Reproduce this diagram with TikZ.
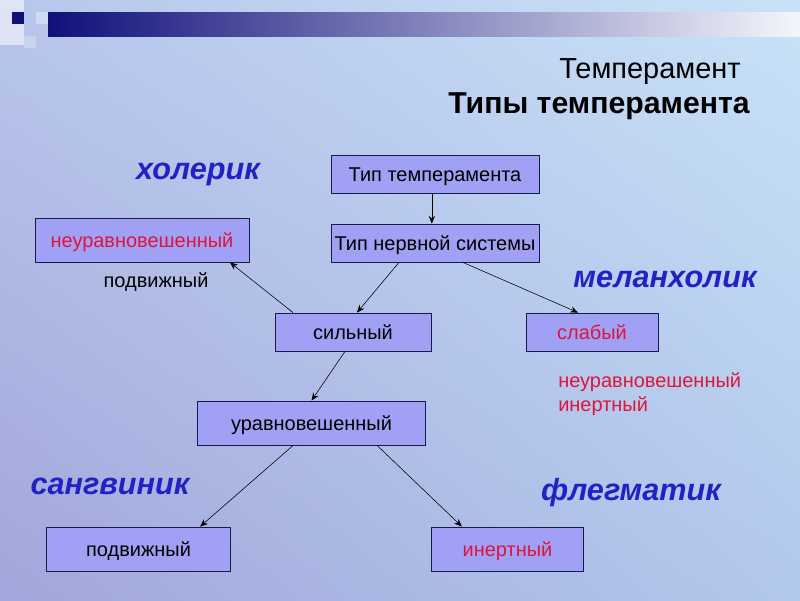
\documentclass[tikz,border=0pt]{standalone}
\usepackage{fontspec}
\setmainfont{Liberation Sans}
\usepackage{xcolor}
\usepackage{tikz}
\usetikzlibrary{positioning, arrows.meta, calc, shadings}
\definecolor{boxfill}{HTML}{A0A0F4}
\definecolor{boxline}{HTML}{1A1A4A}
\definecolor{typeblue}{HTML}{2222C4}
\definecolor{wordred}{HTML}{E0143C}
\definecolor{barnavy}{HTML}{10107A}
\definecolor{bgtl}{HTML}{B8C6EC}
\definecolor{bgtr}{HTML}{C8E2F7}
\definecolor{bgbl}{HTML}{A2A6DA}
\definecolor{bgbr}{HTML}{B2C8EC}
\definecolor{barend}{HTML}{F4F6FC}

\tikzset{
  box/.style={fill=boxfill, draw=boxline, line width=0.6pt, inner sep=0pt,
              text height=12pt, text depth=2pt,
              font=\fontsize{14.2}{17}\selectfont},
  typename/.style={text=typeblue, font=\fontsize{21.8}{24}\selectfont\bfseries\itshape},
  plain/.style={font=\fontsize{14.2}{17}\selectfont, inner sep=0pt},
  arr/.style={-{Stealth[length=5.5pt, width=4.5pt]}, line width=0.4pt}
}

\begin{document}
\begin{tikzpicture}[x=0.025cm, y=-0.025cm]
    \useasboundingbox (0,0) rectangle (800,600);
    % background and top bar
    \shade[upper left=bgtl, upper right=bgtr, lower left=bgbl, lower right=bgbr]
      (0,0) rectangle (800,600);
    \fill[white, opacity=0.55] (0,0) rectangle (24,45);
    \fill[white, opacity=0.35] (36,12) rectangle (48,24);
    \fill[white, opacity=0.25] (24,36) rectangle (36,48);
    \fill[barnavy] (12,12) rectangle (24,24);
    \shade[left color=barnavy, right color=barend]
      (48,12) rectangle (800,36);

    % title
    \node[anchor=east, inner sep=0pt, font=\fontsize{20.6}{24}\selectfont] (title) at (741,72) {Темперамент};
    \node[anchor=east, inner sep=0pt, font=\fontsize{21.5}{24}\selectfont\bfseries] (subtitle) at (750,106) {Типы темперамента};

    % boxes
    \node[box, minimum width=5.2cm, minimum height=0.95cm] (tt) at (435,174) {Тип темперамента};
    \node[box, minimum width=5.2cm, minimum height=0.95cm] (tns) at (435,243) {Тип нервной системы};
    \node[box, minimum width=5.35cm, minimum height=1.1cm, text=wordred] (neur) at (142,240) {неуравновешенный};
    \node[box, minimum width=3.9cm, minimum height=0.95cm] (sil) at (353,332) {сильный};
    \node[box, minimum width=3.3cm, minimum height=0.95cm, text=wordred] (sl) at (592,332) {слабый};
    \node[box, minimum width=5.68cm, minimum height=1.1cm] (ur) at (311.5,423) {уравновешенный};
    \node[box, minimum width=4.58cm, minimum height=1.1cm] (pod) at (138.5,549) {подвижный};
    \node[box, minimum width=3.78cm, minimum height=1.1cm, text=wordred] (in) at (507.5,549) {инертный};

    % temperament names
    \node[typename] (chol) at (198,174) {холерик};
    \node[typename] (mel) at (665,279) {меланхолик};
    \node[typename] (sang) at (110,486) {сангвиник};
    \node[typename] (phleg) at (631,493) {флегматик};

    % side notes
    \node[plain] (podv) at (156,282) {подвижный};
    \node[plain, anchor=north west, text=wordred, align=left] (weaknote) at (558,372)
      {неуравновешенный\\инертный};

    % connectors
    \draw[arr] ([xshift=-0.08cm]tt.south) -- ([xshift=-0.08cm]tns.north);
    \draw[arr] ([xshift=-0.9cm]tns.south) -- ([xshift=0.1cm]sil.north);
    \draw[arr] ([xshift=0.7cm]tns.south) -- ([xshift=-0.35cm]sl.north);
    \draw[arr] ([xshift=-1.5cm]sil.north) -- ([xshift=2.2cm]neur.south);
    \draw[arr] ([xshift=-0.2cm]sil.south) -- (ur.north);
    \draw[arr] ([xshift=-0.46cm]ur.south) -- ([xshift=1.54cm]pod.north);
    \draw[arr] ([xshift=1.64cm]ur.south) -- ([xshift=-1.14cm]in.north);
\end{tikzpicture}
\end{document}
